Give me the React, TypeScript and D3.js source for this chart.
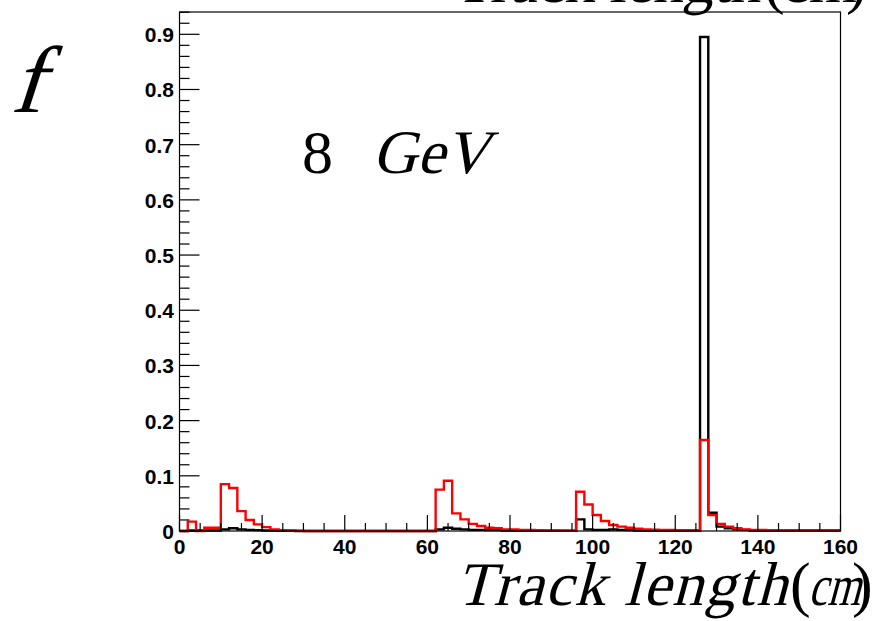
import React from "react";
import * as d3 from "d3";

const W = 872;
const H = 621;

// bin lower edges in cm (2 cm bins from 0 to 160)
const binLow: number[] = [
  0, 2, 4, 6, 8, 10, 12, 14, 16, 18, 20, 22, 24, 26, 28, 30, 32, 34, 36, 38,
  40, 42, 44, 46, 48, 50, 52, 54, 56, 58, 60, 62, 64, 66, 68, 70, 72, 74, 76, 78,
  80, 82, 84, 86, 88, 90, 92, 94, 96, 98, 100, 102, 104, 106, 108, 110, 112, 114, 116, 118,
  120, 122, 124, 126, 128, 130, 132, 134, 136, 138, 140, 142, 144, 146, 148, 150, 152, 154, 156, 158,
];
const binWidth = 2;

const redValues: number[] = [
  0, 0.017, 0, 0.006, 0.006, 0.085, 0.078, 0.036, 0.02, 0.012,
  0.007, 0.003, 0.0015, 0.001, 0.0005, 0, 0, 0, 0, 0,
  0, 0, 0, 0, 0, 0, 0, 0, 0, 0,
  0, 0.075, 0.091, 0.032, 0.021, 0.013, 0.009, 0.006, 0.005, 0.003,
  0.003, 0.002, 0.002, 0.0015, 0.001, 0.001, 0.0005, 0.0003, 0.071, 0.048,
  0.029, 0.018, 0.011, 0.008, 0.006, 0.004, 0.003, 0.0025, 0.002, 0.002,
  0.0015, 0.0015, 0.001, 0.165, 0.029, 0.0127, 0.008, 0.005, 0.003, 0.002,
  0.002, 0.0015, 0.0015, 0.001, 0.001, 0.001, 0.001, 0.001, 0.001, 0.001,
];

const blackValues: number[] = [
  0, 0.001, 0.001, 0.001, 0.001, 0.003, 0.005, 0.003, 0.002, 0.0015,
  0.001, 0.001, 0.0005, 0.0005, 0, 0, 0, 0, 0, 0,
  0, 0, 0, 0, 0, 0, 0, 0, 0, 0,
  0, 0.003, 0.006, 0.004, 0.003, 0.002, 0.002, 0.0015, 0.0015, 0.001,
  0.001, 0.001, 0.001, 0.001, 0.0005, 0.0005, 0.0005, 0.0005, 0.021, 0.003,
  0.002, 0.002, 0.003, 0.002, 0.0015, 0.001, 0.001, 0.001, 0.001, 0.001,
  0.001, 0.001, 0.001, 0.895, 0.033, 0.008, 0.005, 0.003, 0.002, 0.001,
  0.001, 0.001, 0.001, 0.001, 0.001, 0.001, 0.001, 0.001, 0.001, 0.001,
];

const xMajorTicks: number[] = [0, 20, 40, 60, 80, 100, 120, 140, 160];
const yMajorTicks: number[] = [0, 0.1, 0.2, 0.3, 0.4, 0.5, 0.6, 0.7, 0.8, 0.9];
const yTickLabels: string[] = ["0", "0.1", "0.2", "0.3", "0.4", "0.5", "0.6", "0.7", "0.8", "0.9"];

const titleEnergy = "8";
const titleUnit = "GeV";
const yTitle = "f";
const xTitleWord = "Track length";
const xTitleUnit = "cm";

const L = 179.5;
const R = 840.5;
const T = 12;
const B = 531;

const x = d3.scaleLinear().domain([0, 160]).range([L, R]);
const y = d3.scaleLinear().domain([0, 0.9404]).range([B, T]);

const SERIF = "Liberation Serif, Times New Roman, serif";
const SANS = "Liberation Sans, Arial, Helvetica, sans-serif";

function histPath(vals: number[]): string {
  const pts: [number, number][] = [];
  vals.forEach((v, i) => {
    pts.push([x(binLow[i]), y(v)]);
    pts.push([x(binLow[i] + binWidth), y(v)]);
  });
  const line = d3.line<[number, number]>().x((d) => d[0]).y((d) => d[1]);
  return line(pts) || "";
}

function Slant(props: {
  x: number;
  y: number;
  size: number;
  children: React.ReactNode;
  skew?: number;
  textLength?: number;
  squeeze?: boolean;
}) {
  const sk = props.skew ?? -15;
  return (
    <text
      transform={`translate(${props.x},${props.y}) skewX(${sk})`}
      x={0}
      y={0}
      fontFamily={SERIF}
      fontSize={props.size}
      fill="#000"
      textLength={props.textLength}
      lengthAdjust={props.textLength ? (props.squeeze ? "spacingAndGlyphs" : "spacing") : undefined}
    >
      {props.children}
    </text>
  );
}

type TitleLayout = {
  baseline: number;
  wordX: number;
  wordLen: number;
  openX: number;
  unitX: number;
  unitSize: number;
  unitLen?: number;
  closeX: number;
};

function XTitle(props: { lay: TitleLayout }) {
  const l = props.lay;
  const s = 62;
  return (
    <g>
      <Slant x={l.wordX} y={l.baseline} size={s} textLength={l.wordLen}>{xTitleWord}</Slant>
      <text x={l.openX} y={l.baseline} fontFamily={SERIF} fontSize={s} fill="#000">(</text>
      <Slant x={l.unitX} y={l.baseline} size={l.unitSize} textLength={l.unitLen} squeeze>{xTitleUnit}</Slant>
      <text x={l.closeX} y={l.baseline} fontFamily={SERIF} fontSize={s} fill="#000">)</text>
    </g>
  );
}

const topTitle: TitleLayout = { baseline: 2, wordX: 455, wordLen: 306, openX: 764, unitX: 781, unitSize: 62, closeX: 846 };
const bottomTitle: TitleLayout = { baseline: 605, wordX: 456, wordLen: 331, openX: 790, unitX: 808, unitSize: 58, unitLen: 52, closeX: 852 };

export default function App() {
  const xMinor = d3.range(0, 160.001, 5).filter((v) => v % 20 !== 0);
  const yMinor = d3.range(0, 0.9404, 0.02).filter((v) => Math.abs(v * 10 - Math.round(v * 10)) > 1e-6);

  return (
    <svg width={W} height={H} style={{ position: "absolute", left: 0, top: 0, background: "#fff" }}>
      <rect x={0} y={0} width={W} height={H} fill="#fff" />
      {/* clipped duplicate title at top */}
      <XTitle lay={topTitle} />

      {/* histograms */}
      <path d={histPath(blackValues)} fill="none" stroke="#000" strokeWidth={2.4} />
      <path d={histPath(redValues)} fill="none" stroke="#ff0000" strokeWidth={2.4} />

      {/* frame */}
      <rect x={L} y={T} width={R - L} height={B - T} fill="none" stroke="#000" strokeWidth={1.2} />

      {/* x ticks */}
      {xMajorTicks.map((v) => (
        <line key={"xM" + v} x1={x(v)} x2={x(v)} y1={B} y2={B - 16} stroke="#000" strokeWidth={1.2} />
      ))}
      {xMinor.map((v) => (
        <line key={"xm" + v} x1={x(v)} x2={x(v)} y1={B} y2={B - 8} stroke="#000" strokeWidth={1.2} />
      ))}
      {xMajorTicks.map((v) => (
        <text key={"xl" + v} x={x(v)} y={554} textAnchor="middle" fontFamily={SANS} fontWeight="bold" fontSize={21} fill="#000">
          {v}
        </text>
      ))}

      {/* y ticks */}
      {yMajorTicks.map((v) => (
        <line key={"yM" + v} x1={L} x2={L + 20} y1={y(v)} y2={y(v)} stroke="#000" strokeWidth={1.2} />
      ))}
      {yMinor.map((v) => (
        <line key={"ym" + v} x1={L} x2={L + 10} y1={y(v)} y2={y(v)} stroke="#000" strokeWidth={1.2} />
      ))}
      {yMajorTicks.map((v, i) => (
        <text key={"yl" + v} x={174} y={y(v) + 8} textAnchor="end" fontFamily={SANS} fontWeight="bold" fontSize={21} fill="#000">
          {yTickLabels[i]}
        </text>
      ))}

      {/* y title */}
      <Slant x={10} y={112} size={95} skew={-18}>{yTitle}</Slant>

      {/* energy label */}
      <text x={302} y={173} fontFamily={SERIF} fontSize={62} fill="#000">
        {titleEnergy}
      </text>
      <Slant x={372} y={173} size={62}>{titleUnit}</Slant>

      {/* x title */}
      <XTitle lay={bottomTitle} />
    </svg>
  );
}
